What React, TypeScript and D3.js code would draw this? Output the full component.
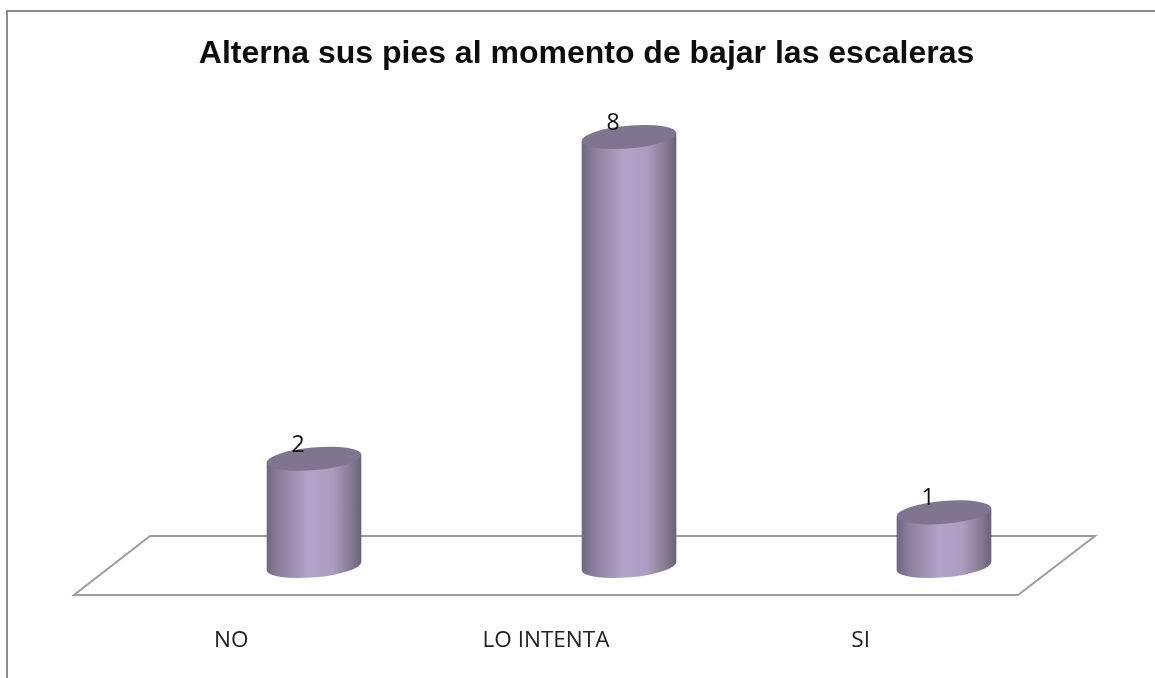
import React from "react";
import * as d3 from "d3";

const categories = ["NO", "LO INTENTA", "SI"];
const values = [2, 8, 1];
const titleText = "Alterna sus pies al momento de bajar las escaleras";

const W = 1155, H = 678;
// back edge and front edge of the floor
const back = { y: 536, x0: 150, x1: 1095 };
const front = { y: 595, x0: 74, x1: 1018 };
const backBand = d3.scaleBand<string>().domain(categories).range([back.x0 + 6.5, back.x1 + 6.5]);
const frontBand = d3.scaleBand<string>().domain(categories).range([front.x0, front.x1]);
const yScale = d3.scaleLinear().domain([0, 8]).range([566, 137]);
const rx = 47.5, ry = 11.4, tilt = -5;
const rad = (tilt * Math.PI) / 180;
const dxE = rx * Math.cos(rad), dyE = rx * Math.sin(rad);

function Cylinder({ cat, value }: { cat: string; value: number }) {
  const cx = (backBand(cat) as number) + backBand.bandwidth() / 2;
  const yT = yScale(value), yB = yScale(0);
  const side = `M${cx - dxE},${yT - dyE} L${cx - dxE},${yB - dyE} A${rx},${ry} ${tilt} 0 0 ${cx + dxE},${yB + dyE} L${cx + dxE},${yT + dyE} Z`;
  return (
    <g>
      <path d={side} fill="url(#cyl)" />
      <ellipse cx={cx} cy={yT} rx={rx} ry={ry} transform={`rotate(${tilt} ${cx} ${yT})`} fill="#7f7490" />
    </g>
  );
}

export default function App() {
  return (
    <svg width={W} height={H} style={{ position: "absolute", left: 0, top: 0, background: "#fff" }}>
      <defs>
        <linearGradient id="cyl" x1="0" x2="1" y1="0" y2="0">
          <stop offset="0" stopColor="#6f6680" />
          <stop offset="0.13" stopColor="#8b7f9d" />
          <stop offset="0.45" stopColor="#b2a3c8" />
          <stop offset="0.7" stopColor="#ab9cc0" />
          <stop offset="0.9" stopColor="#83788f" />
          <stop offset="1" stopColor="#6a6178" />
        </linearGradient>
        <filter id="soft" x="-5%" y="-5%" width="110%" height="110%">
          <feGaussianBlur stdDeviation="0.45" />
        </filter>
      </defs>
      <g filter="url(#soft)">
        <rect x={7} y={11} width={1300} height={800} fill="#fff" stroke="#8c8c8c" strokeWidth={2} />
        <path
          d={`M${back.x0},${back.y} L${back.x1},${back.y} L${front.x1},${front.y} L${front.x0},${front.y} Z`}
          fill="none" stroke="#9e9e9e" strokeWidth={2}
        />
        {categories.map((c, i) => <Cylinder key={c} cat={c} value={values[i]} />)}
        {categories.map((c, i) => {
          const cx = (backBand(c) as number) + backBand.bandwidth() / 2;
          return (
            <text key={c} x={cx - 16} y={yScale(values[i]) - 7} textAnchor="middle"
              fontFamily="'Open Sans', sans-serif" fontSize={23} fill="#111">{values[i]}</text>
          );
        })}
        {categories.map(c => (
          <text key={c} x={(frontBand(c) as number) + frontBand.bandwidth() / 2} y={647} textAnchor="middle"
            fontFamily="'Open Sans', sans-serif" fontSize={22.5} fill="#222">{c}</text>
        ))}
        <text x={586.5} y={63} textAnchor="middle" fontFamily="'Liberation Sans', Arial, sans-serif"
          fontSize={32} fontWeight={700} fill="#111">{titleText}</text>
      </g>
    </svg>
  );
}
